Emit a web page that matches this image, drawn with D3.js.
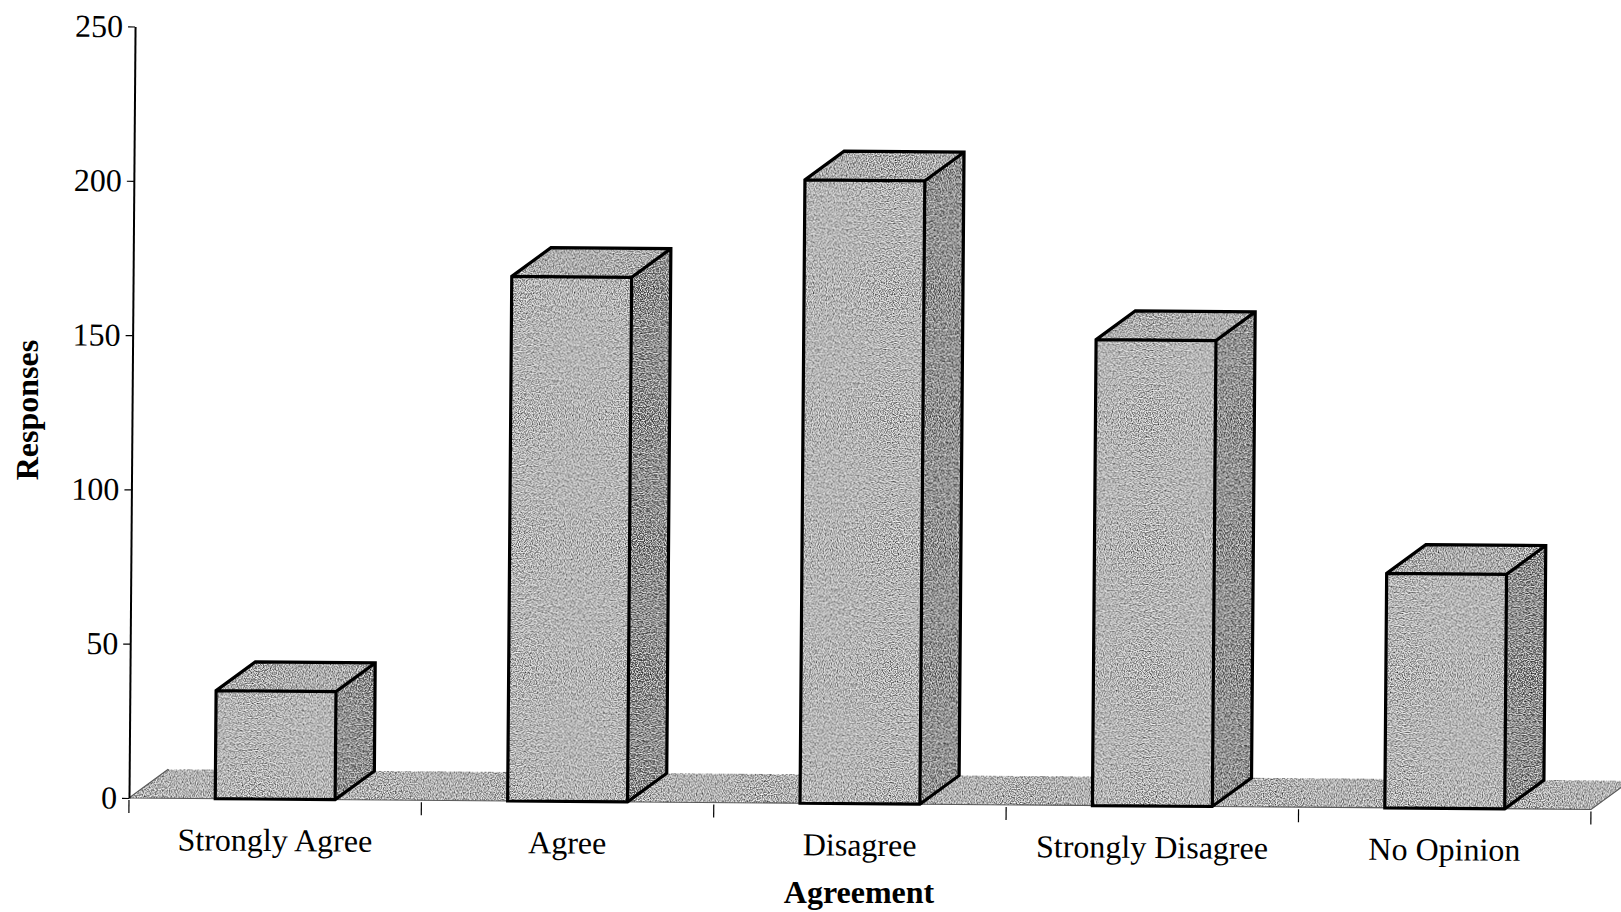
<!DOCTYPE html>
<html>
<head>
<meta charset="utf-8">
<script src="https://cdn.jsdelivr.net/npm/d3@7"></script>
<style>
  html, body { margin: 0; padding: 0; background: #ffffff; }
  svg { display: block; }
  text { font-family: "Liberation Serif", "Times New Roman", serif; fill: #000; }
</style>
</head>
<body>
<script>
// ---- data ----
const categories = ["Strongly Agree", "Agree", "Disagree", "Strongly Disagree", "No Opinion"];
const responses = [35, 170, 202, 151, 76];
const yTicks = [0, 50, 100, 150, 200, 250];
const xTitle = "Agreement";
const yTitle = "Responses";

const W = 1621, H = 912;
const svg = d3.select("body").append("svg").attr("width", W).attr("height", H);

// grain filter to mimic the scanned halftone
const defs = svg.append("defs");
const f = defs.append("filter").attr("id", "grain").attr("x", 0).attr("y", 0).attr("width", 1).attr("height", 1);
f.append("feTurbulence").attr("type", "fractalNoise").attr("baseFrequency", 0.85).attr("numOctaves", 1).attr("seed", 7).attr("result", "noise");
f.append("feColorMatrix").attr("in", "noise").attr("type", "matrix")
  .attr("values", "0 0 0 0 0  0 0 0 0 0  0 0 0 0 0  3.2 0 0 0 -1.45").attr("result", "darkA");
f.append("feComposite").attr("in", "darkA").attr("in2", "SourceGraphic").attr("operator", "in").attr("result", "dark");
f.append("feColorMatrix").attr("in", "noise").attr("type", "matrix")
  .attr("values", "0 0 0 0 1  0 0 0 0 1  0 0 0 0 1  -3.2 0 0 0 1.75").attr("result", "lightA");
f.append("feComposite").attr("in", "lightA").attr("in2", "SourceGraphic").attr("operator", "in").attr("result", "light");
const m = f.append("feMerge");
m.append("feMergeNode").attr("in", "SourceGraphic");
m.append("feMergeNode").attr("in", "dark");
m.append("feMergeNode").attr("in", "light");

const x = d3.scaleBand().domain(categories).range([129, 1591]).paddingInner(0).paddingOuter(0);
const y = d3.scaleLinear().domain([0, 250]).range([798, 26.5]);

const depthX = 39, depthY = -29;
const barW = x.bandwidth() * 0.41;

const colors = { front: "#b0b0b0", top: "#a2a2a2", side: "#6c6c6c", ground: "#ababab" };

// the scanned chart is slightly rotated
const g = svg.append("g").attr("transform", `rotate(0.45, 129, 798)`);

const x0 = x.range()[0], x1 = x.range()[1], y0 = y(0);
const barData = categories.map((c, i) => {
  const l = x(c) + (x.bandwidth() - barW) / 2;
  return { c, v: responses[i], l, r: l + barW, t: y(responses[i]), b: y(0) };
});

// fills (ground + bars) with grain
const fills = g.append("g").attr("filter", "url(#grain)");
fills.append("path")
  .attr("d", `M${x0},${y0} L${x0 + depthX},${y0 + depthY} L${x1 + depthX},${y0 + depthY} L${x1},${y0} Z`)
  .attr("fill", colors.ground);
fills.selectAll("path.front").data(barData).join("path").attr("class", "front")
  .attr("d", d => `M${d.l},${d.b} L${d.l},${d.t} L${d.r},${d.t} L${d.r},${d.b} Z`)
  .attr("fill", colors.front);
fills.selectAll("path.top").data(barData).join("path").attr("class", "top")
  .attr("d", d => `M${d.l},${d.t} L${d.l + depthX},${d.t + depthY} L${d.r + depthX},${d.t + depthY} L${d.r},${d.t} Z`)
  .attr("fill", colors.top);
fills.selectAll("path.side").data(barData).join("path").attr("class", "side")
  .attr("d", d => `M${d.r},${d.t} L${d.r + depthX},${d.t + depthY} L${d.r + depthX},${d.b + depthY} L${d.r},${d.b} Z`)
  .attr("fill", colors.side);

// ground edge
g.append("path")
  .attr("d", `M${x0},${y0} L${x0 + depthX},${y0 + depthY} M${x1 + depthX},${y0 + depthY} L${x1},${y0} L${x0},${y0}`)
  .attr("fill", "none").attr("stroke", "#5a5a5a").attr("stroke-width", 1.2);

// bar outlines
g.selectAll("path.outline").data(barData).join("path").attr("class", "outline")
  .attr("d", d => `M${d.l},${d.b} L${d.l},${d.t} L${d.l + depthX},${d.t + depthY} L${d.r + depthX},${d.t + depthY} L${d.r + depthX},${d.b + depthY} L${d.r},${d.b} Z M${d.l},${d.t} L${d.r},${d.t} L${d.r + depthX},${d.t + depthY} M${d.r},${d.t} L${d.r},${d.b}`)
  .attr("fill", "none")
  .attr("stroke", "#000")
  .attr("stroke-width", 3.2)
  .attr("stroke-linejoin", "miter");

// y axis
const yAxis = d3.axisLeft(y).tickValues(yTicks).tickSize(7).tickSizeOuter(0).tickPadding(5);
const ya = g.append("g").attr("transform", `translate(${x0},0)`).call(yAxis);
ya.select(".domain").attr("stroke", "#000").attr("stroke-width", 2);
ya.selectAll(".tick line").attr("stroke", "#000").attr("stroke-width", 1.2);
ya.selectAll(".tick text").style("font-size", "32px").style("font-family", "'Liberation Serif', serif").attr("fill", "#000");

// x boundary ticks
const bounds = categories.map(c => x(c)).concat([x1]);
g.selectAll("line.xtick").data(bounds).join("line")
  .attr("class", "xtick")
  .attr("x1", d => d).attr("x2", d => d)
  .attr("y1", y0 + 2).attr("y2", y0 + 15)
  .attr("stroke", "#000").attr("stroke-width", 1.2);

// x labels
g.selectAll("text.xlab").data(categories).join("text")
  .attr("class", "xlab")
  .attr("x", d => x(d) + x.bandwidth() / 2)
  .attr("y", y0 + 52)
  .attr("text-anchor", "middle")
  .style("font-size", "32px")
  .text(d => d);

// axis titles
svg.append("text")
  .attr("x", 859).attr("y", 903)
  .attr("text-anchor", "middle")
  .style("font-size", "32px").style("font-weight", "bold")
  .text(xTitle);

svg.append("text")
  .attr("transform", "translate(38,410) rotate(-90)")
  .attr("text-anchor", "middle")
  .style("font-size", "32px").style("font-weight", "bold")
  .text(yTitle);
</script>
</body>
</html>
